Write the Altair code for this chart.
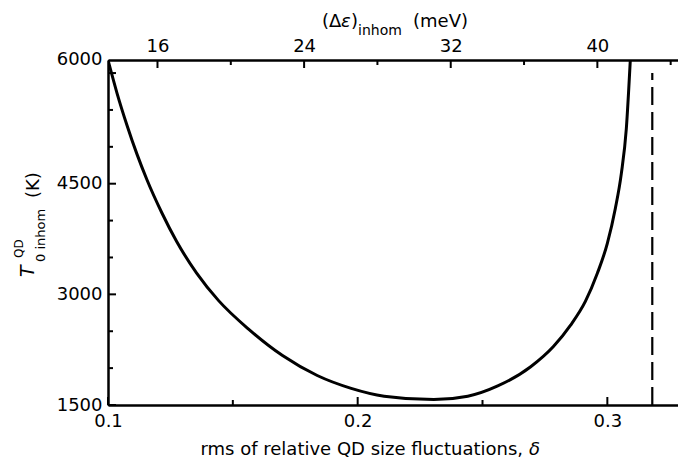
import altair as alt
import pandas as pd

# ---------------- data ----------------
delta = [0.1000, 0.1036, 0.1076, 0.1116, 0.1156, 0.1216, 0.1275, 0.1355,
         0.1443, 0.1563, 0.1699, 0.1838, 0.1974, 0.2106, 0.2305, 0.2441,
         0.2561, 0.2693, 0.2784, 0.2852, 0.2912, 0.2960, 0.3000, 0.3032,
         0.3056, 0.3076, 0.3092]
T0 = [6177, 5729, 5293, 4901, 4554, 4103, 3716, 3288,
      2915, 2529, 2170, 1900, 1726, 1620, 1573, 1619,
      1758, 2018, 2292, 2579, 2904, 3285, 3691, 4164,
      4637, 5245, 6177]

limit_delta = [0.318]
limit_T_low = [1500]
limit_T_high = [6000]

x_major = [0.1, 0.2, 0.3]
x_minor = [0.15, 0.25]
y_major = [1500, 3000, 4500, 6000]
y_minor = [2000, 2500, 3500, 4000, 5000, 5500]
top_major = [16, 24, 32, 40]
top_minor = [20, 28, 36, 44]

X_DOMAIN = [0.1, 0.3283]
Y_DOMAIN = [1500, 6177]
TOP_DOMAIN = [13.3, 44.4]

W, H = 570, 345
PL, PT = 108, 60
FONT = "DejaVu Sans"

# ---------------- scales / axes ----------------
xscale = alt.Scale(domain=X_DOMAIN, nice=False, zero=False)
yscale = alt.Scale(domain=Y_DOMAIN, nice=False, zero=False)
tscale = alt.Scale(domain=TOP_DOMAIN, nice=False, zero=False)

common = dict(ticks=False, grid=False, domainColor="black", domainWidth=2.5,
              labelFont=FONT, labelFontSize=18, labelColor="black",
              labelOverlap=False, labelFlush=False, title=None)

x_axis = alt.Axis(values=x_major, format=".1f", labelPadding=7, **common)
y_axis = alt.Axis(values=y_major, format="d", labelPadding=6,
                  labelOffset={"condition": {"test": "datum.value === 6000", "value": -14}, "value": 0},
                  **common)
top_axis = alt.Axis(orient="top", values=top_major, format="d", labelPadding=5, **common)

curve_df = pd.DataFrame({"delta": delta, "T": T0})
limit_df = pd.DataFrame({"delta": limit_delta, "T": limit_T_low, "T2": limit_T_high})

curve = alt.Chart(curve_df).mark_line(
    color="black", strokeWidth=3, interpolate="monotone", clip=True
).encode(
    x=alt.X("delta:Q", scale=xscale, axis=x_axis),
    y=alt.Y("T:Q", scale=yscale, axis=y_axis),
)

limit = alt.Chart(limit_df).mark_rule(
    color="black", strokeWidth=2.2, strokeDash=[18, 7]
).encode(
    x=alt.X("delta:Q", scale=xscale, axis=x_axis),
    y=alt.Y("T:Q", scale=yscale, axis=y_axis),
    y2="T2:Q",
)


def xticks(vals, length):
    return alt.Chart(pd.DataFrame({"delta": vals})).mark_rule(color="black", strokeWidth=2).encode(
        x=alt.X("delta:Q", scale=xscale, axis=x_axis),
        y=alt.value(H), y2=alt.value(H - length),
    )


def yticks(vals, length):
    return alt.Chart(pd.DataFrame({"T": vals})).mark_rule(color="black", strokeWidth=2).encode(
        y=alt.Y("T:Q", scale=yscale, axis=y_axis),
        x=alt.value(0), x2=alt.value(length),
    )


def topticks(vals, length):
    return alt.Chart(pd.DataFrame({"mev": vals})).mark_rule(color="black", strokeWidth=2).encode(
        x=alt.X("mev:Q", scale=tscale, axis=top_axis),
        y=alt.value(0), y2=alt.value(length),
    )


one = pd.DataFrame({"k": [0]})


def txt(text, x, y, size=18, angle=0, style="normal", align="left"):
    return alt.Chart(one).mark_text(
        text=text, font=FONT, fontSize=size, fontStyle=style, angle=angle,
        align=align, baseline="alphabetic", color="black",
    ).encode(x=alt.value(x - PL), y=alt.value(y - PT))


inner = alt.layer(curve, limit, xticks(x_major, 8), xticks(x_minor, 5),
                  yticks(y_major, 8), yticks(y_minor, 5))
top = alt.layer(topticks(top_major, 8), topticks(top_minor, 5))

texts = [
    # bottom title
    txt("rms of relative QD size fluctuations,", 523, 455, align="right"),
    txt("δ", 529, 455, style="italic"),
    # top title
    txt("(Δ", 322, 27),
    txt("ε", 341, 27, style="italic"),
    txt(")", 351, 27),
    txt("inhom", 358, 35, size=14),
    txt("(meV)", 413, 27),
    # left title (rotated)
    txt("T", 34, 277, size=19, angle=270, style="italic"),
    txt("QD", 23, 258, size=12, angle=270),
    txt("0 inhom", 45, 262, size=13, angle=270),
    txt("(K)", 39, 198, angle=270),
]

chart = alt.layer(inner, top, *texts).resolve_scale(x="independent").properties(
    width=W, height=H,
    padding={"left": PL, "top": PT, "right": 0, "bottom": 465 - PT - H},
    autosize="none",
).configure_view(stroke=None)

chart.save("out.html", embed_options={"renderer": "svg", "actions": False})
